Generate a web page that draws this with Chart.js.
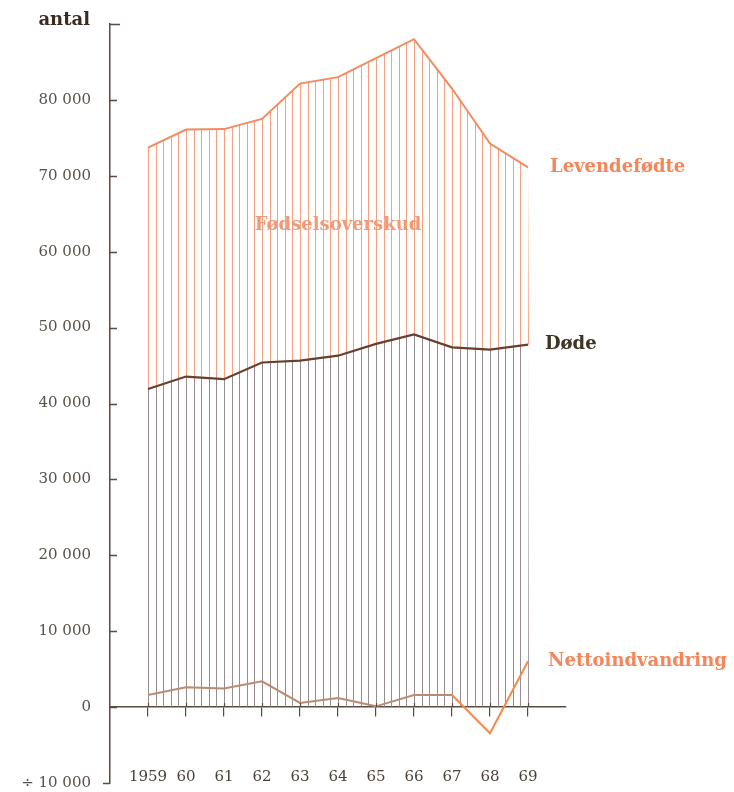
<!DOCTYPE html>
<html><head><meta charset="utf-8">
<script src="https://cdn.jsdelivr.net/npm/chart.js@4.4.1/dist/chart.umd.min.js"></script>
<style>html,body{margin:0;padding:0;background:#fff;}#c{display:block;}</style>
</head><body>
<canvas id="c" width="734" height="792"></canvas>
<script>
const years = [1959,1960,1961,1962,1963,1964,1965,1966,1967,1968,1969];
const yearLabels = ['1959','60','61','62','63','64','65','66','67','68','69'];
const births = [73700,76100,76150,77500,82150,83000,85500,88000,81500,74250,71100];
const deaths = [41900,43550,43200,45400,45650,46300,47850,49100,47400,47100,47750];
const netMigration = [1600,2600,2450,3400,550,1200,100,1600,1600,-3450,6050];
const yTickValues = [-10000,0,10000,20000,30000,40000,50000,60000,70000,80000,90000];

const AXIS = '#5a4a40';
const SERIF = '"DejaVu Serif", serif';

function pts(arr){ return years.map((y,i)=>({x:y, y:arr[i]})); }
function fmt(v){
  if (v === 0) return '0';
  if (v >= 90000) return '';
  const s = Math.abs(v).toString().replace(/\B(?=(\d{3})+(?!\d))/g, ' ');
  return v < 0 ? '÷ ' + s : s;
}

const hatchPlugin = {
  id: 'hatch',
  beforeDatasetsDraw(chart){
    const {ctx, scales:{x, y}} = chart;
    const dM = chart.getDatasetMeta(0).data;
    const bM = chart.getDatasetMeta(1).data;
    const y0 = y.getPixelForValue(0);
    const top = chart.chartArea.top, bottom = chart.chartArea.bottom;
    function lines(color){
      ctx.strokeStyle = color; ctx.lineWidth = 1;
      ctx.beginPath();
      for (let k = 0; k <= (years.length-1)*5; k++){
        const xv = Math.round(x.getPixelForValue(years[0] + k/5)) + 0.5;
        ctx.moveTo(xv, top); ctx.lineTo(xv, bottom);
      }
      ctx.stroke();
    }
    // lower region: 0 .. deaths
    ctx.save();
    ctx.beginPath();
    ctx.moveTo(dM[0].x - 1, y0);
    dM.forEach(p=>ctx.lineTo(p.x, p.y));
    ctx.lineTo(dM[dM.length-1].x + 1, y0);
    ctx.closePath();
    ctx.clip();
    lines('rgba(125,112,118,0.8)');
    ctx.restore();
    // upper region: deaths .. births
    ctx.save();
    ctx.beginPath();
    bM.forEach((p,i)=> i ? ctx.lineTo(p.x, p.y) : ctx.moveTo(p.x - 1, p.y));
    for (let i = dM.length-1; i >= 0; i--) ctx.lineTo(dM[i].x + (i===dM.length-1?1:(i===0?-1:0)), dM[i].y);
    ctx.closePath();
    ctx.clip();
    lines('rgba(243,145,108,0.85)');
    ctx.restore();
  },
  afterDraw(chart){
    const {ctx, scales:{x, y}, chartArea} = chart;
    ctx.save();
    ctx.strokeStyle = AXIS; ctx.lineWidth = 1.5;
    ctx.beginPath();
    const ax = chartArea.left;
    yTickValues.forEach(v=>{
      const py = Math.round(y.getPixelForValue(v)) + 0.5;
      if (v < 0){ ctx.moveTo(ax - 7, py); ctx.lineTo(ax, py); }
      else { ctx.moveTo(ax, py); ctx.lineTo(ax + (v >= 90000 ? 10 : 7), py); }
    });
    ctx.stroke();
    ctx.lineWidth = 1.2;
    ctx.beginPath();
    const y0 = y.getPixelForValue(0);
    years.forEach(yr=>{
      const px = Math.round(x.getPixelForValue(yr)) + 0.5;
      ctx.moveTo(px, y0 - 4); ctx.lineTo(px, y0);
    });
    ctx.stroke();

    ctx.textBaseline = 'middle';
    ctx.font = 'bold 18px ' + SERIF;
    ctx.fillStyle = '#3a2a20';
    ctx.textAlign = 'right';
    ctx.fillText('antal', chartArea.left - 20, 20);
    ctx.textAlign = 'left';
    const lx = x.getPixelForValue(years[years.length-1]);
    const li = years.length - 1;
    ctx.fillStyle = '#f4865a';
    ctx.fillText('Levendefødte', lx + 22, y.getPixelForValue(births[li]));
    ctx.fillStyle = '#3c3424';
    ctx.fillText('Døde', lx + 17, y.getPixelForValue(deaths[li]));
    ctx.fillStyle = '#f4865a';
    ctx.fillText('Nettoindvandring', lx + 20, y.getPixelForValue(netMigration[li]));
    ctx.textAlign = 'center';
    ctx.fillStyle = '#f19a78';
    ctx.fillText('Fødselsoverskud', x.getPixelForValue(1964), y.getPixelForValue(63500));
    ctx.restore();
  }
};

new Chart(document.getElementById('c'), {
  type: 'line',
  data: {
    datasets: [
      { label: 'Døde', data: pts(deaths), borderColor: '#6a3e2c', borderWidth: 2.2, pointRadius: 0, fill: false, tension: 0 },
      { label: 'Levendefødte', data: pts(births), borderColor: '#f38a62', borderWidth: 2, pointRadius: 0, fill: false, tension: 0 },
      { label: 'Nettoindvandring', data: pts(netMigration), borderColor: '#b88c72', borderWidth: 2, pointRadius: 0, fill: false, tension: 0,
        segment: { borderColor: c => (c.p0.parsed.y < 0 || c.p1.parsed.y < 0) ? '#f48a50' : '#b88c72' } }
    ]
  },
  options: {
    responsive: false,
    animation: false,
    layout: { padding: { top: 24, right: 168, bottom: 9, left: 0 } },
    plugins: { legend: { display: false }, tooltip: { enabled: false } },
    scales: {
      x: {
        type: 'linear', position: { y: 0 }, min: 1958, max: 1970,
        afterBuildTicks: s => { s.ticks = years.map(v => ({ value: v })); },
        grid: { drawOnChartArea: false, drawTicks: true, tickLength: 9, color: AXIS, lineWidth: 1.2 },
        border: { display: true, color: AXIS, width: 1.5 },
        ticks: { padding: 52, color: '#4e4038', font: { family: SERIF, size: 15 },
          callback: v => { const i = years.indexOf(v); return i >= 0 ? yearLabels[i] : ''; } }
      },
      y: {
        type: 'linear', min: -10000, max: 90000,
        afterBuildTicks: s => { s.ticks = yTickValues.map(v => ({ value: v })); },
        afterFit: s => { s.width = 110; },
        grid: { display: true, drawOnChartArea: false, drawTicks: true, tickLength: 19, color: 'rgba(0,0,0,0)' },
        border: { display: true, color: AXIS, width: 1.5 },
        ticks: { padding: 0, color: '#5b5048', font: { family: SERIF, size: 15 }, callback: v => fmt(v) }
      }
    }
  },
  plugins: [hatchPlugin]
});
</script>
</body></html>
